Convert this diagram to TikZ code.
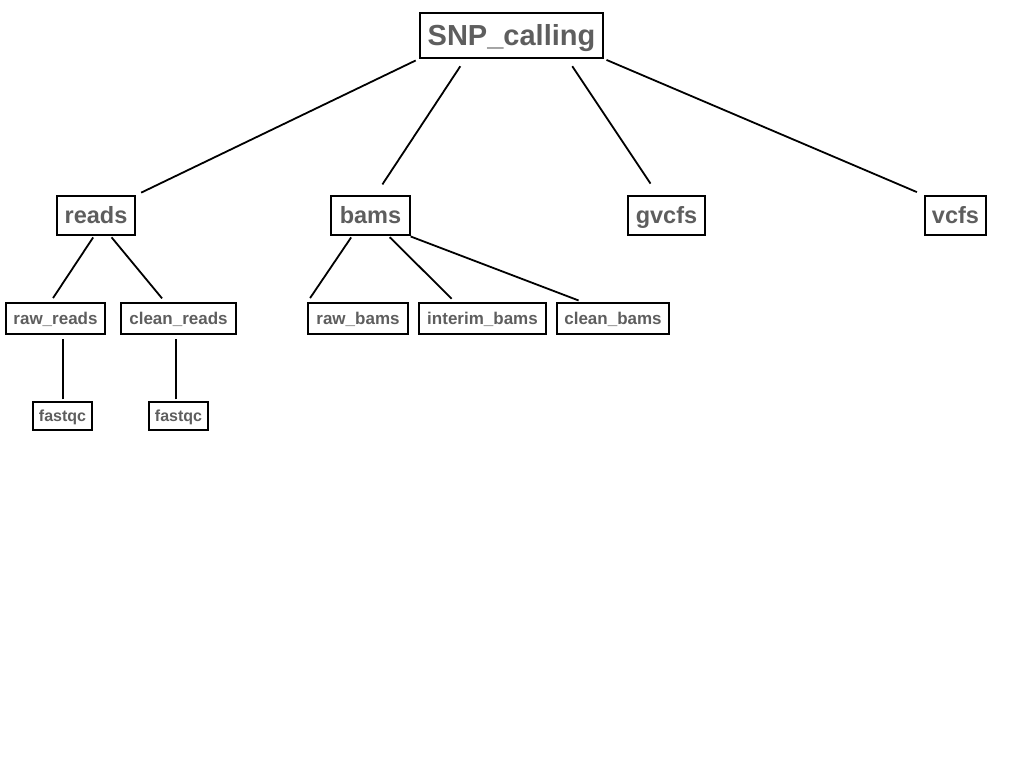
\documentclass[tikz,border=0pt]{standalone}
\usepackage{fontspec}
\setmainfont{Liberation Sans}
\usetikzlibrary{calc}
\definecolor{txt}{HTML}{5E5E5E}
\tikzset{
  box/.style={draw=black, line width=1.5pt, inner sep=0pt, text=txt, anchor=center, text depth=0pt},
  lvA/.style={box, minimum height=45pt, text height=20.8pt, font=\bfseries\fontsize{29}{29}\selectfont},
  lvB/.style={box, minimum height=39pt, text height=16.9pt, font=\bfseries\fontsize{23.5}{24}\selectfont},
  lvC/.style={box, minimum height=31pt, text height=12.2pt, font=\bfseries\fontsize{17}{17}\selectfont},
  lvD/.style={box, minimum height=28pt, text height=11.5pt, font=\bfseries\fontsize{16}{16}\selectfont},
  link/.style={draw=black, line width=1.8pt},
}
\begin{document}
\begin{tikzpicture}[x=1pt, y=-1pt]
\useasboundingbox (0,0) rectangle (1024,768);
% level 0
\node[lvA, minimum width=183pt] (snp) at (511.5,35.5) {SNP\_calling};
% level 1
\node[lvB, minimum width=78pt] (reads) at (96,215.5) {reads};
\node[lvB, minimum width=79pt] (bams) at (370.5,215.5) {bams};
\node[lvB, minimum width=77pt] (gvcfs) at (666.5,215.5) {gvcfs};
\node[lvB, minimum width=61pt] (vcfs) at (955.5,215.5) {vcfs};
% level 2
\node[lvC, minimum width=99pt] (rawreads) at (55.5,318.5) {raw\_reads};
\node[lvC, minimum width=115pt] (cleanreads) at (178.5,318.5) {clean\_reads};
\node[lvC, minimum width=100pt] (rawbams) at (358,318.5) {raw\_bams};
\node[lvC, minimum width=127pt] (interimbams) at (482.5,318.5) {interim\_bams};
\node[lvC, minimum width=112pt] (cleanbams) at (613,318.5) {clean\_bams};
% level 3
\node[lvD, minimum width=59pt] (fq1) at (62.5,416) {fastqc};
\node[lvD, minimum width=59pt] (fq2) at (178.5,416) {fastqc};
% connectors
\draw[link, shorten <=4pt, shorten >=6pt] (snp.south west) -- (reads.north east);
\draw[link, shorten <=9pt, shorten >=13pt] ($(snp.south west)+(46,0)$) -- ($(bams.north west)+(45,0)$);
\draw[link, shorten <=9pt, shorten >=14pt] ($(snp.south west)+(148,0)$) -- ($(gvcfs.north west)+(31,0)$);
\draw[link, shorten <=3pt, shorten >=8pt] (snp.south east) -- (vcfs.north west);
\draw[link, shorten <=2pt, shorten >=5pt] ($(reads.south west)+(38,0)$) -- ($(rawreads.north west)+(45,0)$);
\draw[link, shorten <=2pt, shorten >=5pt] ($(reads.south west)+(54,0)$) -- ($(cleanreads.north west)+(45,0)$);
\draw[link, shorten <=2pt, shorten >=4pt] (fq1.north -| 63,0) -- (rawreads.south -| 63,0);
\draw[link, shorten <=2pt, shorten >=4pt] (fq2.north -| 176,0) -- (cleanreads.south -| 176,0);
\draw[link, shorten <=2pt, shorten >=5pt] ($(bams.south west)+(22,0)$) -- (rawbams.north west);
\draw[link, shorten <=2pt, shorten >=5pt] ($(bams.south west)+(58,0)$) -- ($(interimbams.north west)+(37,0)$);
\draw[link, shorten <=2pt, shorten >=5pt] ($(bams.south east)+(-2,0)$) -- ($(cleanbams.north west)+(27,0)$);
\end{tikzpicture}
\end{document}
